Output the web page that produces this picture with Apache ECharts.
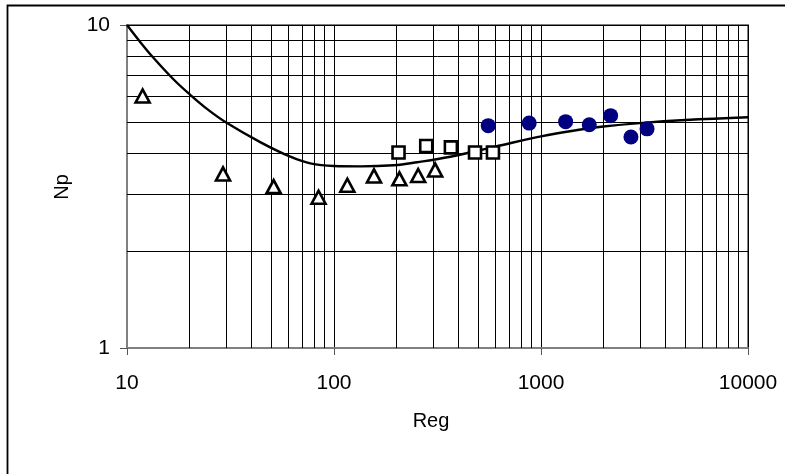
<!DOCTYPE html>
<html>
<head>
<meta charset="utf-8">
<script src="https://cdn.jsdelivr.net/npm/echarts@6/dist/echarts.min.js"></script>
<style>
  html, body { margin: 0; padding: 0; background: #fff; }
  #chart { width: 785px; height: 474px; }
</style>
</head>
<body>
<div id="chart"></div>
<script>
// Measured points: triangles, squares and filled circles (Reg, Np)
const triReg = [11.9, 29.1, 51.1, 84.2, 116, 156, 207, 255, 308];
const triNp  = [6.03, 3.46, 3.16, 2.93, 3.19, 3.41, 3.34, 3.42, 3.56];
const sqReg  = [205, 279, 367, 480, 586];
const sqNp   = [4.03, 4.22, 4.18, 4.03, 4.03];
const dotReg = [556, 877, 1315, 1711, 2169, 2720, 3253];
const dotNp  = [4.88, 4.97, 5.02, 4.91, 5.24, 4.50, 4.77];

// Correlation curve
const curveReg = [10, 11.6, 13.45, 16.8, 20.2, 24.6, 30, 44, 61.5, 76.8, 100, 134.5, 194, 252, 364.5, 600, 1000, 1500, 2000, 3000, 5000, 10000];
const curveNp  = [10, 8.85, 7.90, 6.78, 6.08, 5.47, 5.0, 4.34, 3.91, 3.73, 3.66, 3.65, 3.68, 3.76, 3.91, 4.20, 4.52, 4.73, 4.85, 4.97, 5.08, 5.18];

// Axis ranges and log-grid minor lines
const xMin = 10, xMax = 10000, yMin = 1, yMax = 10;
const xMinor = [20, 30, 40, 50, 60, 70, 80, 90, 200, 300, 400, 500, 600, 700, 800, 900, 2000, 3000, 4000, 5000, 6000, 7000, 8000, 9000];
const yMinor = [2, 3, 4, 5, 6, 7, 8, 9];

const zip = (a, b) => a.map((v, i) => [v, b[i]]);
const FONT = '"Liberation Sans", Arial, sans-serif';
const plain = v => String(Math.round(v));

const chart = echarts.init(document.getElementById('chart'), null, { renderer: 'canvas' });

const gridLineStyle = { color: '#000', width: 1, type: 'solid' };
const minorLines = xMinor.map(v => ({ xAxis: v })).concat(yMinor.map(v => ({ yAxis: v })));

chart.setOption({
  animation: false,
  backgroundColor: '#fff',
  grid: {
    left: 127, right: 37, top: 25, bottom: 126,
    show: true, borderColor: '#808080', borderWidth: 2, backgroundColor: 'transparent'
  },
  xAxis: {
    type: 'log', logBase: 10, min: xMin, max: xMax,
    axisLine: { show: true, lineStyle: { color: '#808080', width: 2 } },
    axisTick: { show: true, length: 7, inside: false, lineStyle: { color: '#555', width: 1 } },
    axisLabel: { color: '#000', fontSize: 21, fontFamily: FONT, margin: 25, formatter: plain },
    splitLine: { show: true, lineStyle: gridLineStyle }
  },
  yAxis: {
    type: 'log', logBase: 10, min: yMin, max: yMax,
    axisLine: { show: true, lineStyle: { color: '#808080', width: 2 } },
    axisTick: { show: true, length: 7, inside: false, lineStyle: { color: '#555', width: 1 } },
    axisLabel: { color: '#000', fontSize: 21, fontFamily: FONT, margin: 17, formatter: plain },
    splitLine: { show: true, lineStyle: gridLineStyle }
  },
  graphic: [
    { type: 'rect', shape: { x: 7.5, y: 5.5, width: 900, height: 600 },
      style: { fill: 'none', stroke: '#000', lineWidth: 1.8 }, silent: true },
    { type: 'text', x: 431, y: 421, silent: true,
      style: { text: 'Reg', font: '20px ' + FONT, fill: '#000', textAlign: 'center', textVerticalAlign: 'middle' } },
    { type: 'text', x: 62, y: 187, rotation: Math.PI / 2, silent: true,
      style: { text: 'Np', font: '20px ' + FONT, fill: '#000', textAlign: 'center', textVerticalAlign: 'middle' } }
  ],
  series: [
    {
      name: 'curve', type: 'line', data: zip(curveReg, curveNp),
      smooth: 0.4, showSymbol: false, symbol: 'none', z: 3,
      lineStyle: { color: '#000', width: 2.4 },
      markLine: {
        silent: true, symbol: 'none', z: 1, animation: false,
        label: { show: false },
        lineStyle: gridLineStyle,
        emphasis: { disabled: true },
        data: minorLines
      }
    },
    {
      name: 'triangles', type: 'scatter', data: zip(triReg, triNp), z: 5,
      symbol: 'triangle', symbolSize: [14, 13],
      itemStyle: { color: '#fff', borderColor: '#000', borderWidth: 2.6, opacity: 1 }
    },
    {
      name: 'squares', type: 'scatter', data: zip(sqReg, sqNp), z: 5,
      symbol: 'rect', symbolSize: 12,
      itemStyle: { color: '#fff', borderColor: '#000', borderWidth: 2.6, opacity: 1 }
    },
    {
      name: 'circles', type: 'scatter', data: zip(dotReg, dotNp), z: 5,
      symbol: 'circle', symbolSize: 15,
      itemStyle: { color: '#000080', opacity: 1 }
    }
  ]
});
</script>
</body>
</html>
